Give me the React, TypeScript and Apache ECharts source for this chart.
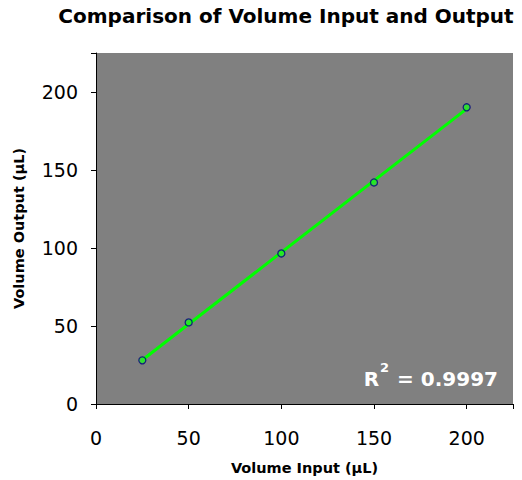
import React, { useEffect, useRef } from "react";
import * as echarts from "echarts";

const volumeInput = [25, 50, 100, 150, 200];
const volumeOutput = [28, 52.3, 96.5, 142, 190.2];
const tickLabels = [0, 50, 100, 150, 200];
const rSquaredLabel = "0.9997";

function linearFit(xs: number[], ys: number[]) {
  const n = xs.length;
  const mx = xs.reduce((a, b) => a + b, 0) / n;
  const my = ys.reduce((a, b) => a + b, 0) / n;
  let sxy = 0;
  let sxx = 0;
  for (let i = 0; i < n; i++) {
    sxy += (xs[i] - mx) * (ys[i] - my);
    sxx += (xs[i] - mx) * (xs[i] - mx);
  }
  const slope = sxy / sxx;
  return { slope, intercept: my - slope * mx };
}

export default function App() {
  const ref = useRef<HTMLDivElement>(null);
  useEffect(() => {
    if (!ref.current) return;
    const chart = echarts.init(ref.current, undefined, { renderer: "svg" });
    const fit = linearFit(volumeInput, volumeOutput);
    const xMin = Math.min(...volumeInput);
    const xMax = Math.max(...volumeInput);
    const trend = [
      [xMin, fit.slope * xMin + fit.intercept],
      [xMax, fit.slope * xMax + fit.intercept],
    ];
    const font = "DejaVu Sans, Verdana, sans-serif";
    const fmt = (v: number) => (tickLabels.includes(v) ? String(v) : "");
    chart.setOption({
      animation: false,
      backgroundColor: "#ffffff",
      title: {
        text: "Comparison of Volume Input and Output",
        left: 281,
        top: 1,
        textAlign: "center",
        textStyle: { fontFamily: font, fontWeight: "bold", fontSize: 20, color: "#000" },
      },
      grid: { left: 96, right: 9, top: 53, bottom: 72, show: true, backgroundColor: "#808080", borderWidth: 0 },
      xAxis: {
        type: "value",
        min: 0,
        max: 225,
        interval: 50,
        name: "Volume Input (µL)",
        nameLocation: "middle",
        nameGap: 56,
        nameTextStyle: { fontFamily: font, fontWeight: "bold", fontSize: 14.5, color: "#000" },
        axisLine: { show: true, onZero: false, lineStyle: { color: "#000", width: 1 } },
        axisTick: { show: true, length: 5, lineStyle: { color: "#000" } },
        axisLabel: { fontFamily: font, fontSize: 19, color: "#000", margin: 24, formatter: fmt },
        splitLine: { show: false },
      },
      yAxis: {
        type: "value",
        min: 0,
        max: 225,
        interval: 50,
        name: "Volume Output (µL)",
        nameLocation: "middle",
        nameGap: 70,
        nameTextStyle: { fontFamily: font, fontWeight: "bold", fontSize: 14.5, color: "#000" },
        axisLine: { show: true, onZero: false, lineStyle: { color: "#000", width: 1 } },
        axisTick: { show: true, length: 5, lineStyle: { color: "#000" } },
        axisLabel: { fontFamily: font, fontSize: 19, color: "#000", margin: 18, formatter: fmt },
        splitLine: { show: false },
      },
      graphic: [
        {
          type: "text",
          right: 24,
          top: 361,
          style: {
            text: "{r|R}{sup|2}{r| = " + rSquaredLabel + "}",
            rich: {
              r: { fontFamily: font, fontWeight: "bold", fontSize: 20, fill: "#fff", color: "#fff", verticalAlign: "bottom", lineHeight: 28 },
              sup: { fontFamily: font, fontWeight: "bold", fontSize: 13, fill: "#fff", color: "#fff", verticalAlign: "top", lineHeight: 28, padding: [0, 1, 12, 1] },
            },
          },
        },
      ],
      series: [
        {
          type: "line",
          data: trend,
          symbol: "none",
          lineStyle: { color: "#00ff00", width: 3 },
          z: 2,
        },
        {
          type: "scatter",
          data: volumeInput.map((x, i) => [x, volumeOutput[i]]),
          symbol: "circle",
          symbolSize: 7,
          itemStyle: { color: "#22ee22", borderColor: "#000080", borderWidth: 1.3 },
          z: 3,
        },
      ],
    });
    return () => chart.dispose();
  }, []);
  return <div ref={ref} style={{ width: 522, height: 480, position: "absolute", left: 0, top: 0 }} />;
}
